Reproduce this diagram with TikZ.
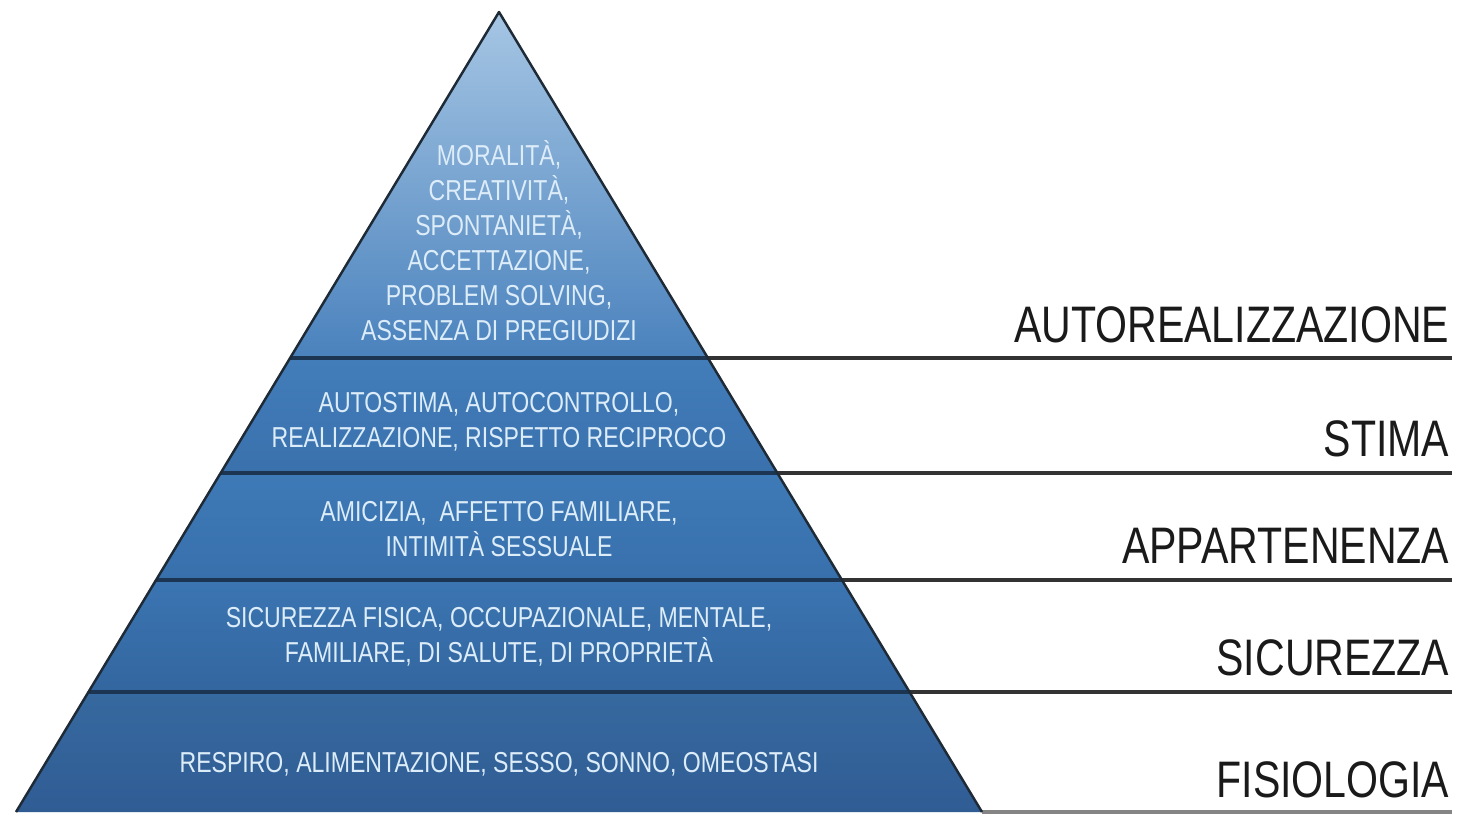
\documentclass[tikz,border=0pt]{standalone}
\usepackage{fontspec}
\usetikzlibrary{calc}
\newfontfamily\dinfont[FakeStretch=0.8]{Liberation Sans}
\definecolor{bandAtop}{HTML}{A6C6E4}
\definecolor{bandAbot}{HTML}{4A82BD}
\definecolor{bandBtop}{HTML}{427DBA}
\definecolor{bandBbot}{HTML}{3A71AD}
\definecolor{bandCtop}{HTML}{3E7AB7}
\definecolor{bandCbot}{HTML}{3870AC}
\definecolor{bandDtop}{HTML}{3B75B2}
\definecolor{bandDbot}{HTML}{33669F}
\definecolor{bandEtop}{HTML}{36699F}
\definecolor{bandEbot}{HTML}{305C94}
\definecolor{bandline}{HTML}{1B3552}
\definecolor{pyredge}{HTML}{1E2A36}
\definecolor{ruleline}{HTML}{333333}
\definecolor{needtxt}{HTML}{DCECF8}
\definecolor{labeltxt}{HTML}{1A1A1A}

\begin{document}
\begin{tikzpicture}[x=0.01cm, y=-0.01cm,
                    need/.style={font=\dinfont\fontsize{8.2}{9.96}\selectfont, text=needtxt, align=center},
                    level/.style={font=\dinfont\fontsize{14.6}{16}\selectfont, text=labeltxt, anchor=base east, inner sep=0pt},
                    sep/.style={draw=bandline, line width=0.9pt},
                    rule/.style={draw=ruleline, line width=0.9pt}
                ]

                \useasboundingbox (0,0) rectangle (1458,814);

                % --- Pyramid corners and band edges ---
                \coordinate (apex) at (499,12);
                \coordinate (bl) at (16,812);
                \coordinate (br) at (982,812);
                \coordinate (rend) at (1452,0);
                \foreach \t [count=\i] in {0.4325, 0.57625, 0.71, 0.85} {
                    \coordinate (l\i) at ($(apex)!\t!(bl)$);
                    \coordinate (r\i) at ($(apex)!\t!(br)$);
                }

                % --- Bands ---
                \shade[top color=bandAtop, bottom color=bandAbot] (apex) -- (r1) -- (l1) -- cycle;
                \shade[top color=bandBtop, bottom color=bandBbot] (l1) -- (r1) -- (r2) -- (l2) -- cycle;
                \shade[top color=bandCtop, bottom color=bandCbot] (l2) -- (r2) -- (r3) -- (l3) -- cycle;
                \shade[top color=bandDtop, bottom color=bandDbot] (l3) -- (r3) -- (r4) -- (l4) -- cycle;
                \shade[top color=bandEtop, bottom color=bandEbot] (l4) -- (r4) -- (br) -- (bl) -- cycle;

                \foreach \i in {1,...,4} {
                    \draw[sep] (l\i) -- (r\i);
                    \draw[rule] (r\i) -- (r\i -| rend);
                }
                \draw[rule, draw=ruleline!60] (br) -- (br -| rend);
                \draw[line width=0.7pt, draw=pyredge, line join=round] (bl) -- (apex) -- (br);

                % --- Needs ---
                \node[need] (self_txt) at (499,241) {MORALITÀ,\\CREATIVITÀ,\\SPONTANIETÀ,\\ACCETTAZIONE,\\PROBLEM SOLVING,\\ASSENZA DI PREGIUDIZI};
                \node[need] (esteem_txt) at (499,422) {AUTOSTIMA, AUTOCONTROLLO,\\REALIZZAZIONE, RISPETTO RECIPROCO};
                \node[need] (love_txt) at (499,529) {AMICIZIA,~ AFFETTO FAMILIARE,\\INTIMITÀ SESSUALE};
                \node[need] (safety_txt) at (499,637) {SICUREZZA FISICA, OCCUPAZIONALE, MENTALE,\\FAMILIARE, DI SALUTE, DI PROPRIETÀ};
                \node[need] (body_txt) at (499,764) {RESPIRO, ALIMENTAZIONE, SESSO, SONNO, OMEOSTASI};

                % --- Levels ---
                \node[level] (self) at (1450,342) {AUTOREALIZZAZIONE};
                \node[level] (esteem) at (1450,456) {STIMA};
                \node[level] (love) at (1450,563) {APPARTENENZA};
                \node[level] (safety) at (1450,675) {SICUREZZA};
                \node[level] (body) at (1450,797) {FISIOLOGIA};

                \end{tikzpicture}
\end{document}
